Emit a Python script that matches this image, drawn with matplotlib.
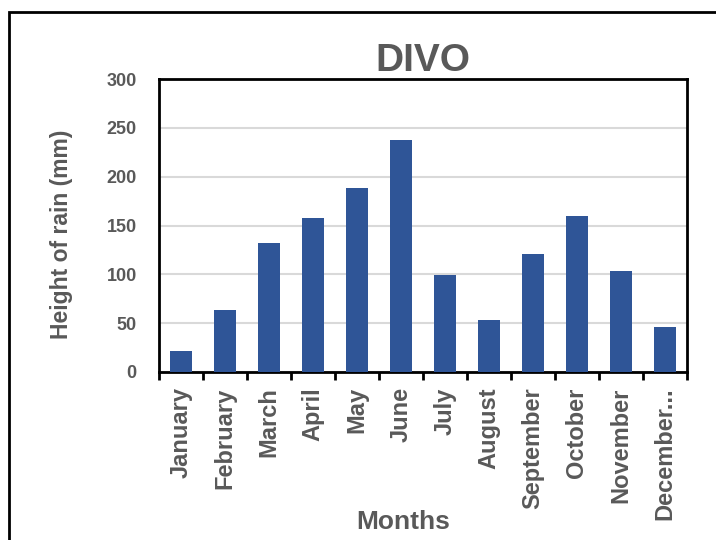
import numpy as np
import matplotlib.pyplot as plt
from matplotlib.patches import Rectangle

months = ['January', 'February', 'March', 'April', 'May', 'June', 'July',
          'August', 'September', 'October', 'November', 'December...']
rain = [22, 63, 132, 158, 188, 238, 99, 53, 121, 160, 103, 46]
yticks = [0, 50, 100, 150, 200, 250, 300]

grey = '#595959'
plt.rcParams['font.family'] = ['Liberation Sans', 'DejaVu Sans']
plt.rcParams['font.weight'] = 'bold'

fig = plt.figure(figsize=(7.16, 5.40), dpi=100)
# outer chart frame (runs off the right and bottom edges)
fig.patches.append(Rectangle((9 / 716, -0.1), 1.2, 1 - 12 / 540 + 0.1,
                             transform=fig.transFigure, fill=False,
                             edgecolor='black', linewidth=2))

ax = fig.add_axes([159 / 716, (540 - 372) / 540, 528 / 716, 293 / 540])
x = np.arange(len(months))
ax.bar(x, rain, width=0.52, color='#2F5597', zorder=3)

ax.set_ylim(0, 300)
ax.set_xlim(-0.5, len(months) - 0.5)
ax.set_yticks(yticks)
ax.set_yticklabels([str(v) for v in yticks], fontsize=13, color=grey, fontweight='bold')
ax.tick_params(axis='y', length=0, pad=16)
ax.yaxis.grid(True, color='#D9D9D9', linewidth=1.5, zorder=0)

ax.set_xticks(x)
ax.set_xticklabels(months, rotation=90, fontsize=17, color=grey, fontweight='bold')
ax.set_xticks(np.arange(-0.5, len(months)), minor=True)
ax.tick_params(axis='x', which='major', length=0, pad=11)
ax.tick_params(axis='x', which='minor', length=6, width=2, direction='out', color='black')

for s in ax.spines.values():
    s.set_color('black')
    s.set_linewidth(2)

ax.set_title('DIVO', fontsize=28, color=grey, fontweight='bold', pad=6)
ax.set_ylabel('Height of rain (mm)', fontsize=16.5, color=grey, fontweight='bold')
ax.yaxis.set_label_coords(-0.163, 0.47)
ax.set_xlabel('Months', fontsize=19, color=grey, fontweight='bold')
ax.xaxis.set_label_coords(0.462, -0.47)

fig.savefig('out.png', dpi=100)
